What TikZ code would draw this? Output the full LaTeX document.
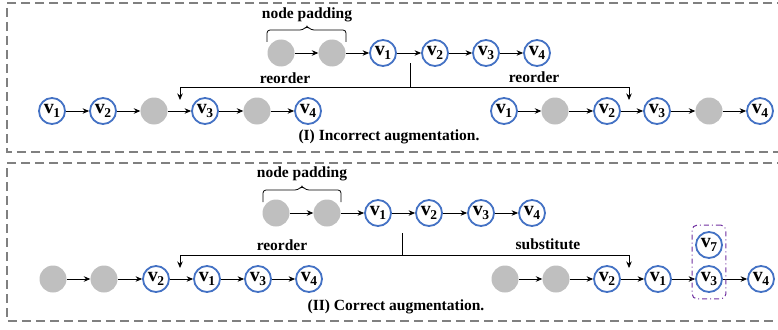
\documentclass[tikz,border=0pt]{standalone}
\usepackage{fontspec}
\setmainfont{Liberation Serif}
\usetikzlibrary{arrows.meta,fit}
\definecolor{vblue}{RGB}{68,114,196}
\definecolor{padgray}{RGB}{191,191,191}
\definecolor{boxpurple}{RGB}{112,48,160}
\newcommand{\vlab}[1]{\fontsize{20}{20}\selectfont\bfseries v\kern-0.5pt\raisebox{-0.45ex}{\fontsize{13.5}{13.5}\selectfont #1}}

\begin{document}
\begin{tikzpicture}[x=1pt, y=-1pt,
  vnode/.style={circle, draw=vblue, line width=1.8pt, minimum size=26pt, inner sep=0pt},
  pnode/.style={circle, fill=padgray, minimum size=27pt, inner sep=0pt},
  flow/.style={-{Stealth[length=6.5pt,width=5.5pt]}, line width=0.8pt},
  link/.style={line width=0.8pt},
  txt/.style={font=\fontsize{15.5}{18}\selectfont\bfseries},
  panel/.style={gray, dash pattern=on 9pt off 5pt, line width=1.2pt}]
  \useasboundingbox (0,0) rectangle (778,329);

  % (I) incorrect augmentation
  \draw[panel] (800,3) -- (7,3) -- (7,152) -- (800,152);
  \node[pnode] (pa1) at (281,53) {};
  \node[pnode] (pa2) at (332,53) {};
  \node[vnode] (a1) at (383,53) {\vlab{1}};
  \node[vnode] (a2) at (435,53) {\vlab{2}};
  \node[vnode] (a3) at (486,53) {\vlab{3}};
  \node[vnode] (a4) at (537,53) {\vlab{4}};
  \draw[flow] (pa1) -- (pa2);
  \draw[flow] (pa2) -- (a1);
  \draw[flow] (a1) -- (a2);
  \draw[flow] (a2) -- (a3);
  \draw[flow] (a3) -- (a4);
  \draw[link, rounded corners=3pt] (267,42) -- (267,30) -- (303,30) -- (307,26) -- (311,30) -- (346,30) -- (346,42); % brace
  \node[txt] (pad1) at (307,15) {node padding};

  \coordinate (s1) at (410,63);
  \coordinate (j1) at (410,87);
  \coordinate (t1) at (180,100);
  \coordinate (t2) at (629,100);
  \draw[link] (s1) -- (j1);
  \draw[flow] (j1) -| (t1);
  \draw[flow] (j1) -| (t2);
  \node[txt] (ro1) at (285,78) {reorder};
  \node[txt] (ro2) at (534,77) {reorder};

  % left: reorder
  \node[vnode] (l1) at (52,111) {\vlab{1}};
  \node[vnode] (l2) at (103,111) {\vlab{2}};
  \node[pnode] (lp1) at (154,111) {};
  \node[vnode] (l3) at (205,111) {\vlab{3}};
  \node[pnode] (lp2) at (257,111) {};
  \node[vnode] (l4) at (308,111) {\vlab{4}};
  \draw[flow] (l1) -- (l2);
  \draw[flow] (l2) -- (lp1);
  \draw[flow] (lp1) -- (l3);
  \draw[flow] (l3) -- (lp2);
  \draw[flow] (lp2) -- (l4);

  % right: reorder
  \node[vnode] (r1) at (504,111) {\vlab{1}};
  \node[pnode] (rp1) at (555,111) {};
  \node[vnode] (r2) at (607,111) {\vlab{2}};
  \node[vnode] (r3) at (657,111) {\vlab{3}};
  \node[pnode] (rp2) at (709,111) {};
  \node[vnode] (r4) at (760,111) {\vlab{4}};
  \draw[flow] (r1) -- (rp1);
  \draw[flow] (rp1) -- (r2);
  \draw[flow] (r2) -- (r3);
  \draw[flow] (r3) -- (rp2);
  \draw[flow] (rp2) -- (r4);
  \node[txt] (cap1) at (389,137) {(I) Incorrect augmentation.};

  % (II) correct augmentation
  \draw[panel] (800,163) -- (7,163) -- (7,321) -- (800,321);
  \node[pnode] (pb1) at (276,213) {};
  \node[pnode] (pb2) at (327,213) {};
  \node[vnode] (b1) at (378,213) {\vlab{1}};
  \node[vnode] (b2) at (429,213) {\vlab{2}};
  \node[vnode] (b3) at (481,213) {\vlab{3}};
  \node[vnode] (b4) at (532,213) {\vlab{4}};
  \draw[flow] (pb1) -- (pb2);
  \draw[flow] (pb2) -- (b1);
  \draw[flow] (b1) -- (b2);
  \draw[flow] (b2) -- (b3);
  \draw[flow] (b3) -- (b4);
  \draw[link, rounded corners=3pt] (263,202) -- (263,190) -- (298,190) -- (302,186) -- (306,190) -- (341,190) -- (341,202); % brace
  \node[txt] (pad2) at (302,174) {node padding};

  \coordinate (s2) at (402,233);
  \coordinate (j2) at (402,255);
  \coordinate (t3) at (180,268);
  \coordinate (t4) at (629,268);
  \draw[link] (s2) -- (j2);
  \draw[flow] (j2) -| (t3);
  \draw[flow] (j2) -| (t4);
  \node[txt] (ro3) at (282,245) {reorder};
  \node[txt] (su1) at (548,244) {substitute};

  % left: reorder
  \node[pnode] (mp1) at (53,279) {};
  \node[pnode] (mp2) at (104,279) {};
  \node[vnode] (m2) at (156,279) {\vlab{2}};
  \node[vnode] (m1) at (207,279) {\vlab{1}};
  \node[vnode] (m3) at (258,279) {\vlab{3}};
  \node[vnode] (m4) at (309,279) {\vlab{4}};
  \draw[flow] (mp1) -- (mp2);
  \draw[flow] (mp2) -- (m2);
  \draw[flow] (m2) -- (m1);
  \draw[flow] (m1) -- (m3);
  \draw[flow] (m3) -- (m4);

  % right: substitute
  \node[pnode] (np1) at (505,279) {};
  \node[pnode] (np2) at (556,279) {};
  \node[vnode] (n2) at (607,279) {\vlab{2}};
  \node[vnode] (n1) at (658,279) {\vlab{1}};
  \node[vnode] (n3) at (709,279) {\vlab{3}};
  \node[vnode] (n4) at (761,279) {\vlab{4}};
  \node[vnode] (n7) at (709,245) {\vlab{7}};
  \draw[flow] (np1) -- (np2);
  \draw[flow] (np2) -- (n2);
  \draw[flow] (n2) -- (n1);
  \draw[flow] (n1) -- (n3);
  \draw[flow] (n3) -- (n4);
  \node[draw=boxpurple, dash pattern=on 5pt off 3pt on 1pt off 3pt, line width=1pt, rounded corners=5pt, inner xsep=3pt, inner ysep=6pt, fit=(n7)(n3)] (swap) {};
  \node[txt] (cap2) at (396,307) {(II) Correct augmentation.};
\end{tikzpicture}
\end{document}
